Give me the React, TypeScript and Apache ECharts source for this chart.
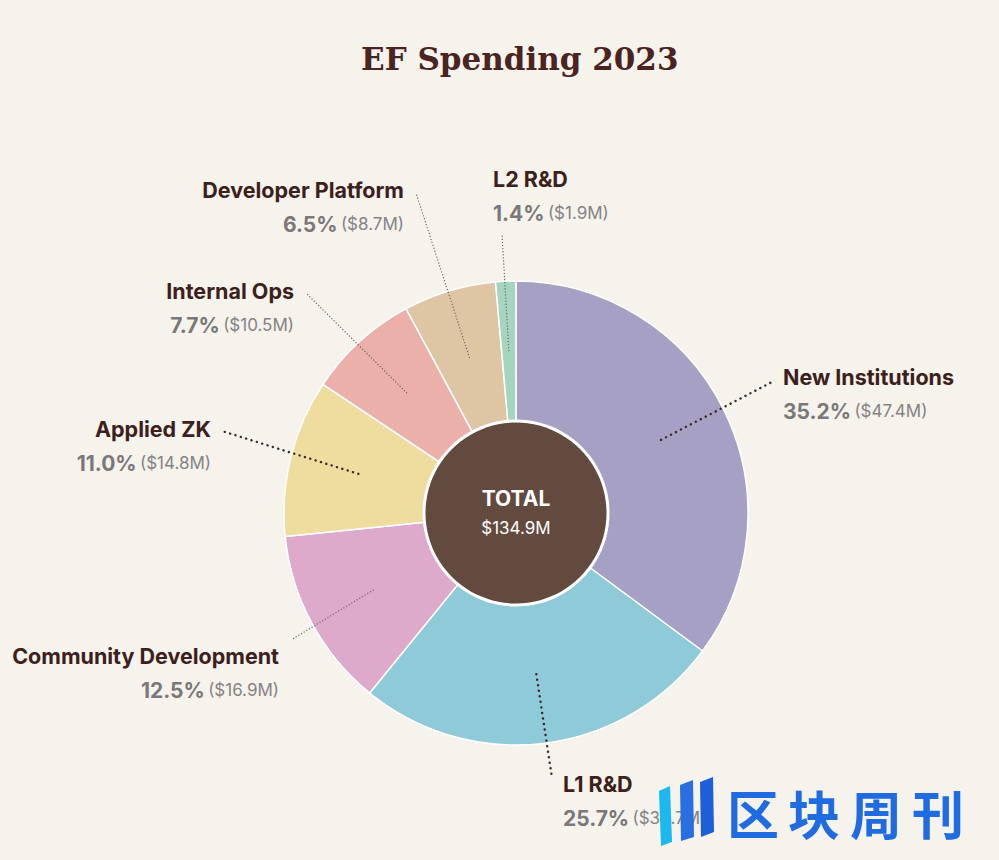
import React, { useEffect, useRef } from "react";
import * as echarts from "echarts";

const titleText = "EF Spending 2023";
const categories = [
  "New Institutions",
  "L1 R&D",
  "Community Development",
  "Applied ZK",
  "Internal Ops",
  "Developer Platform",
  "L2 R&D",
];
const valuesM = [47.4, 34.7, 16.9, 14.8, 10.5, 8.7, 1.9];
const percentLabels = ["35.2%", "25.7%", "12.5%", "11.0%", "7.7%", "6.5%", "1.4%"];
const totalName = "TOTAL";
const totalLabel = "$134.9M";
const watermarkChars = ["区", "块", "周", "刊"];

const sliceColors = ["#A6A1C4", "#8ECAD8", "#DEAACB", "#EFDDA0", "#EBB0AA", "#DEC5A3", "#A5D4BF"];

// label layout (positions only)
const CX = 516;
const CY = 513;
const R = 232;
const labelPos = [
  { x: 783, y: 394, side: "left", end: [772, 382], bold: true },
  { x: 563, y: 801, side: "left", end: [552, 778], bold: true },
  { x: 279, y: 673, side: "right", end: [291, 640], bold: false },
  { x: 211, y: 446, side: "right", end: [222, 431], bold: true },
  { x: 294, y: 308, side: "right", end: [306, 293], bold: false },
  { x: 404, y: 207, side: "right", end: [416, 193], bold: false },
  { x: 493, y: 196, side: "left", end: [502, 234], bold: false },
];
const watermarkX = [727, 788, 850, 912];

export default function App() {
  const ref = useRef<HTMLDivElement>(null);
  useEffect(() => {
    document.body.style.margin = "0";
    document.body.style.background = "#F6F2EC";
    const chart = echarts.init(ref.current!, null, { renderer: "svg" });
    const total = valuesM.reduce((a, b) => a + b, 0);
    let cum = 0;
    const mids = valuesM.map((v) => {
      const m = ((cum + v / 2) / total) * Math.PI * 2;
      cum += v;
      return m;
    });
    const nameStyle = { fontFamily: "Inter", fontWeight: "bold", fontSize: 21.5, color: "#3B201B", lineHeight: 34 };
    const pctStyle = { fontFamily: "Inter", fontWeight: "bold", fontSize: 21, color: "#7A7878", lineHeight: 34 };
    const valStyle = { fontFamily: "Inter", fontWeight: "normal", fontSize: 17, color: "#858383", lineHeight: 34 };

    const sliceData = categories.map((c, i) => ({
      name: c,
      value: valuesM[i],
      itemStyle: { color: sliceColors[i] },
    }));
    const labelData = categories.map((c, i) => ({
      name: c,
      value: valuesM[i],
      labelLine: {
        lineStyle: labelPos[i].bold
          ? { color: "#3A2A25", width: 2.4, type: [0.1, 5.5] as any, cap: "round" }
          : { color: "#6E6260", width: 1.3, type: [0.1, 3] as any, cap: "round" },
      },
    }));

    const option: any = {
      animation: false,
      backgroundColor: "#F6F2EC",
      title: {
        text: titleText,
        left: 356,
        top: 38,
        textStyle: { fontFamily: "DejaVu Serif", fontWeight: "bold", fontSize: 31, color: "#4A2420" },
      },
      series: [
        {
          type: "pie",
          center: [CX, CY],
          radius: [0, R],
          startAngle: 90,
          clockwise: true,
          silent: true,
          itemStyle: { borderColor: "#FFFFFF", borderWidth: 1.5 },
          label: { show: false },
          labelLine: { show: false },
          data: sliceData,
          z: 2,
        },
        {
          type: "pie",
          center: [CX, CY],
          radius: [0, 93.5],
          silent: true,
          label: { show: false },
          labelLine: { show: false },
          itemStyle: { color: "#FFFFFF" },
          data: [{ name: "ring", value: 1 }],
          z: 3,
        },
        {
          type: "pie",
          center: [CX, CY],
          radius: [0, 90.5],
          silent: true,
          itemStyle: { color: "#634A3F" },
          label: {
            show: true,
            position: "center",
            formatter: `{t|${totalName}}\n{v|${totalLabel}}`,
            rich: {
              t: { fontFamily: "Inter", fontWeight: "bold", fontSize: 21, color: "#FFFFFF", lineHeight: 30 },
              v: { fontFamily: "Inter", fontSize: 17, color: "#FFFFFF", lineHeight: 30 },
            },
          },
          labelLine: { show: false },
          data: [{ name: totalName, value: 1 }],
          z: 4,
        },
        {
          // transparent overlay carrying labels and guide lines above the slices
          type: "pie",
          center: [CX, CY],
          radius: [0, R],
          startAngle: 90,
          clockwise: true,
          avoidLabelOverlap: false,
          silent: true,
          itemStyle: { color: "rgba(0,0,0,0)", borderWidth: 0 },
          label: {
            show: true,
            position: "outside",
            formatter: (p: any) => {
              const s = labelPos[p.dataIndex].side === "left" ? "L" : "R";
              return `{n${s}|${p.name}}\n{p${s}|${percentLabels[p.dataIndex]}} {v${s}|($${valuesM[p.dataIndex]}M)}`;
            },
            rich: {
              nL: { ...nameStyle, align: "left" },
              pL: { ...pctStyle, align: "left" },
              vL: { ...valStyle, align: "left" },
              nR: { ...nameStyle, align: "right" },
              pR: { ...pctStyle, align: "right" },
              vR: { ...valStyle, align: "right" },
            },
          },
          labelLine: { show: true, showAbove: true },
          labelLayout: (params: any) => {
            const i = params.dataIndex;
            const lp = labelPos[i];
            const m = mids[i];
            const inner = [CX + 0.7 * R * Math.sin(m), CY - 0.7 * R * Math.cos(m)];
            const mid = [(inner[0] + lp.end[0]) / 2, (inner[1] + lp.end[1]) / 2];
            return {
              x: lp.x,
              y: lp.y,
              align: lp.side,
              verticalAlign: "middle",
              labelLinePoints: [inner, mid, lp.end],
            };
          },
          data: labelData,
          z: 5,
        },
      ],
      graphic: [
        {
          type: "polygon",
          z: 100,
          shape: { points: [[659, 791], [670, 786], [672, 842], [661, 846]] },
          style: { fill: "#1BB9EE" },
        },
        {
          type: "polygon",
          z: 100,
          shape: { points: [[680, 785], [693, 780], [694, 837], [681, 841]] },
          style: { fill: "#2A6FE2" },
        },
        {
          type: "polygon",
          z: 100,
          shape: { points: [[700, 782], [713, 777], [714, 832], [701, 837]] },
          style: { fill: "#1D5FD8" },
        },
        ...watermarkChars.map((ch, i) => ({
          type: "text",
          z: 100,
          x: watermarkX[i],
          y: 812,
          style: {
            text: ch,
            fontFamily: "Noto Sans CJK SC",
            fontWeight: "bold",
            fontSize: 52,
            fill: "#1F6BE0",
            verticalAlign: "middle",
            align: "left",
          },
        })),
      ],
    };
    chart.setOption(option);
    return () => chart.dispose();
  }, []);
  return <div ref={ref} style={{ width: 999, height: 860 }} />;
}
